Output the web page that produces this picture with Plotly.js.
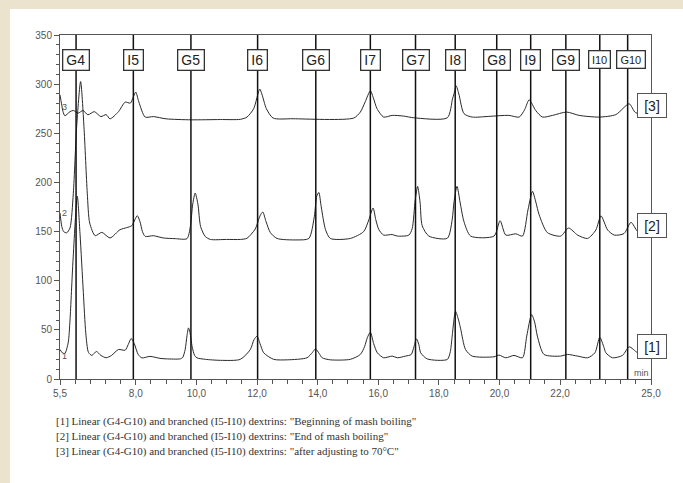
<!DOCTYPE html>
<html>
<head>
<meta charset="utf-8">
<script src="https://cdn.plot.ly/plotly-3.0.1.min.js"></script>
<style>
  html, body { margin:0; padding:0; background:#ece3cf; width:683px; height:483px; overflow:hidden; }
  #chart { position:absolute; left:10px; top:9px; width:673px; height:474px; background:#ffffff; }
</style>
</head>
<body>
<div id="chart"></div>
<script>
// ---- Data (retention time in min, detector signal) ----
const t1 = [5.50,5.58,5.66,5.77,5.83,5.93,6.07,6.16,6.27,6.35,6.44,6.55,6.70,6.85,7.02,7.20,7.43,7.65,7.75,7.85,7.95,8.08,8.20,8.47,8.80,9.00,9.47,9.55,9.63,9.69,9.74,9.79,9.86,9.94,10.02,10.30,10.80,11.45,11.78,11.90,12.00,12.10,12.22,12.55,13.00,13.65,13.83,13.93,14.05,14.15,14.42,15.08,15.41,15.55,15.64,15.74,15.85,15.97,16.18,16.46,16.63,16.90,17.09,17.18,17.26,17.34,17.40,17.62,18.28,18.38,18.44,18.55,18.65,18.72,18.88,19.10,19.82,19.98,20.21,20.48,20.76,20.90,21.06,21.16,21.25,21.47,22.02,22.24,22.58,22.91,23.15,23.31,23.45,23.51,23.73,24.06,24.28,24.56,24.80,25.00];
const v1 = [30,26.6,26.0,36.8,60,121,186,148,88,47,27,24,28,24,21.6,24,30,29.3,35,41.2,36,25,21.5,23,21,20.5,20.5,22,30,44,52,47,33,24,21.5,20,19,20,30,40,43.5,36,26.7,20,19.5,21.6,27,30.7,26,21.6,19.5,20,25,33,42,47.6,36,26.7,21.6,23.3,21.6,23.3,25,33,40.9,35,26.7,20.4,19.9,28,43.7,68.9,60,51,30,23.3,22.6,24.3,21.6,24,21.6,43.7,65.5,58,43.7,25,23.3,25,23.3,21.6,26.7,42.5,32,26.7,21.6,24,32.7,26.7,25,25];

const t2 = [5.50,5.56,5.62,5.72,5.83,5.94,6.05,6.18,6.29,6.40,6.48,6.66,6.88,7.15,7.48,7.70,7.87,7.97,8.05,8.14,8.22,8.31,8.58,8.91,9.30,9.69,9.80,9.88,9.96,10.05,10.14,10.29,10.46,11.00,11.45,11.67,11.94,12.10,12.19,12.30,12.44,12.66,13.32,13.71,13.89,13.97,14.04,14.12,14.26,14.42,15.08,15.52,15.69,15.83,15.92,16.02,16.18,16.46,16.63,17.01,17.12,17.22,17.30,17.38,17.45,17.67,18.28,18.44,18.50,18.60,18.70,18.83,19.05,19.82,20.02,20.21,20.54,20.76,20.94,21.09,21.20,21.31,21.58,22.02,22.28,22.58,22.91,23.18,23.35,23.57,23.79,24.11,24.34,24.56,24.80,25.00];
const v2 = [169,155,150,148.7,153.7,189,257,302.6,257,189,158.7,145.8,149.2,143.5,151.9,154,156,162,166.2,160,150,145.1,145.8,143.5,142.8,142.8,155,178,189.2,178,155,145.1,142,142,142,143.2,152.6,166,169.9,160,149,143,141.5,143,165,186,189.8,175,152,143,143,150,162,174,162,152,146.4,147,145.4,146.4,153,182,195.9,180,156,145.4,143.2,162,180,196,180,160,145.4,145.4,161,146.4,147.7,145.4,172,190.9,180,167,149,145.4,153.6,146.4,143,151.6,166,151.6,146.4,148,159.4,150,147,147];

const t3 = [5.50,5.55,5.60,5.66,5.83,5.94,6.10,6.26,6.42,6.63,6.85,7.02,7.15,7.43,7.65,7.82,7.92,8.00,8.10,8.31,8.58,9.00,9.82,10.79,11.45,11.67,11.89,12.09,12.16,12.31,12.53,13.19,15.19,15.41,15.57,15.74,15.85,15.96,16.18,16.46,16.84,17.17,18.28,18.45,18.50,18.57,18.66,18.83,19.10,19.65,20.31,20.65,20.83,20.98,21.20,21.42,21.75,22.22,22.63,23.29,23.84,24.28,24.49,25.00];
const v3 = [289,280,272,267.8,272,273.2,270.5,273.2,268.8,272,267,269,264.7,272,281.7,280.7,287,291.9,282,266.5,267,264.7,263.7,264,264.2,266.5,275,295,290,275,265.5,264.8,265.5,271.6,282,293.2,285,275,266.5,268.2,267.5,265.8,265.8,285,290,298.3,290,270,266.5,267.2,268.2,266.5,274,284,273,266.5,268.2,271.6,268.2,266.5,269,280,271,270];

// Marker positions (linear G and branched I dextrins)
const markerNames = ["G4","I5","G5","I6","G6","I7","G7","I8","G8","I9","G9","I10","G10"];
const markerTimes = [6.03,7.92,9.82,12.02,13.94,15.74,17.23,18.54,19.91,21.03,22.19,23.31,24.23];

// Axis ticks
const xTickVals = [5.5,8,10,12,14,16,18,20,22,25];
const xTickText = ["5,5","8,0","10,0","12,0","14,0","16,0","18,0","20,0","22,0","25,0"];
const yTickVals = [0,50,100,150,200,250,300,350];

// Series labels
const seriesTags = ["[1]","[2]","[3]"];
const seriesTagY = [33,155.7,278];
const seriesNum = ["1","2","3"];
const seriesNumY = [23.2,169,277.2];

const captions = [
  '[1] Linear (G4-G10) and branched (I5-I10) dextrins: "Beginning of mash boiling"',
  '[2] Linear (G4-G10) and branched (I5-I10) dextrins: "End of mash boiling"',
  '[3] Linear (G4-G10) and branched (I5-I10) dextrins: "after adjusting to 70°C"'
];

const lineStyle = {color:'#2a2a2a', width:1, shape:'spline', smoothing:0.7};
const traces = [
  {x:t1, y:v1, mode:'lines', line:lineStyle, hoverinfo:'skip'},
  {x:t2, y:v2, mode:'lines', line:lineStyle, hoverinfo:'skip'},
  {x:t3, y:v3, mode:'lines', line:lineStyle, hoverinfo:'skip'}
];

const shapes = markerTimes.map(t => ({
  type:'line', xref:'x', yref:'y', x0:t, x1:t, y0:0, y1:350,
  line:{color:'#111', width:1.5}, layer:'above'
}));

const annotations = [];
markerNames.forEach((n,i) => {
  const small = (n === 'I10' || n === 'G10');
  const isG = n[0] === 'G';
  annotations.push({
    x: markerTimes[i], y: 325, xref:'x', yref:'y', text: n, showarrow:false,
    font:{family:'Liberation Sans, Arial, sans-serif', size: small ? 11 : 14, color:'#222'},
    bgcolor:'#ffffff', bordercolor:'#333', borderwidth:1.3, borderpad:1.5,
    width: small ? (isG ? 24 : 17.5) : (isG ? 22 : 15),
    height: small ? 13.5 : 16,
    xshift: (n === 'G10') ? 3 : 0,
    xanchor:'center', yanchor:'middle'
  });
});
seriesTags.forEach((s,i) => {
  annotations.push({
    x: 1, y: seriesTagY[i], xref:'paper', yref:'y', text:s, showarrow:false,
    font:{family:'Liberation Sans, Arial, sans-serif', size:14, color:'#222'},
    bgcolor:'#ffffff', bordercolor:'#555', borderwidth:1, borderpad:2,
    width:24, height:19, xanchor:'center', yanchor:'middle', xshift:1
  });
});
seriesNum.forEach((s,i) => {
  annotations.push({
    x: 5.5, y: seriesNumY[i], xref:'x', yref:'y', text:s, showarrow:false,
    font:{family:'Liberation Sans, Arial, sans-serif', size:9, color:'#555'},
    xanchor:'left', yanchor:'middle', xshift:0
  });
});
annotations.push({
  x: 24.70, y: 6.1, xref:'x', yref:'y', text:'min', showarrow:false,
  font:{family:'Liberation Sans, Arial, sans-serif', size:9, color:'#555'},
  xanchor:'center', yanchor:'middle'
});
captions.forEach((c,i) => {
  annotations.push({
    x:0, y:0, xref:'paper', yref:'paper', text:c, showarrow:false,
    font:{family:'Liberation Serif, Times New Roman, serif', size:11, color:'#333'},
    xanchor:'left', yanchor:'middle', xshift:-6, yshift:-42 - 15*i
  });
});

const axisFont = {family:'Liberation Sans, Arial, sans-serif', size:10, color:'#555'};
const layout = {
  width:673, height:474,
  margin:{l:50, r:32.3, t:26, b:103.5},
  paper_bgcolor:'#ffffff', plot_bgcolor:'#ffffff',
  showlegend:false,
  xaxis:{
    range:[5.5,25], showgrid:false, zeroline:false,
    showline:true, linecolor:'#555', linewidth:1, mirror:true,
    tickmode:'array', tickvals:xTickVals, ticktext:xTickText,
    ticks:'outside', ticklen:5, tickcolor:'#555', tickwidth:1,
    tickfont:axisFont,
    minor:{tickmode:'linear', tick0:5.5, dtick:0.5, ticks:'outside', ticklen:4, tickcolor:'#555', showgrid:false}
  },
  yaxis:{
    range:[0,350], showgrid:false, zeroline:false,
    showline:true, linecolor:'#555', linewidth:1, mirror:true,
    tickmode:'array', tickvals:yTickVals,
    ticks:'outside', ticklen:5, tickcolor:'#555', tickwidth:1,
    tickfont:axisFont,
    minor:{tickmode:'linear', tick0:0, dtick:10, ticks:'outside', ticklen:3, tickcolor:'#555', showgrid:false}
  },
  shapes: shapes,
  annotations: annotations
};

Plotly.newPlot('chart', traces, layout, {displayModeBar:false, staticPlot:true});
</script>
</body>
</html>
